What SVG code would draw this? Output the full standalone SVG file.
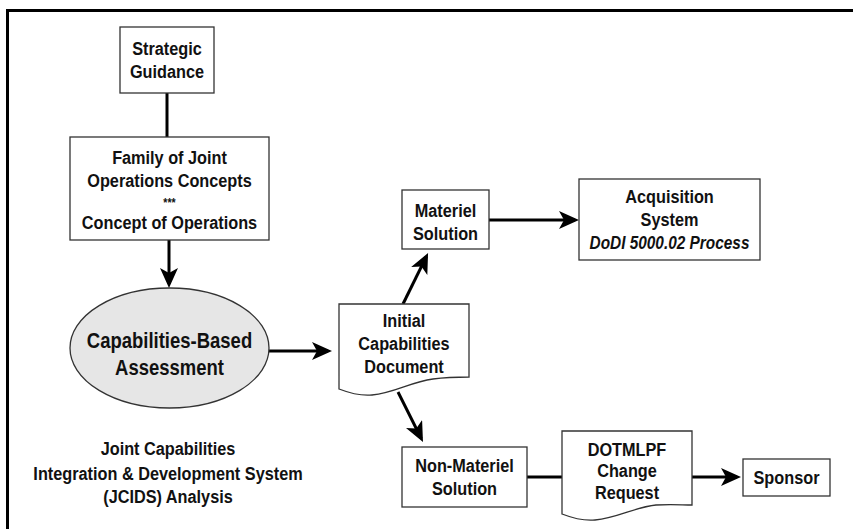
<svg xmlns="http://www.w3.org/2000/svg" width="853" height="529" viewBox="0 0 853 529">
<style>
.box{fill:#fff;stroke:#333;stroke-width:1.3}
.t{font-family:"Liberation Sans",Arial,sans-serif;font-weight:bold;font-size:18.5px;fill:#111;text-anchor:middle}
.big{font-size:21.5px}
.it{font-style:italic;font-size:17.5px}
.c{fill:none;stroke:#000;stroke-width:3}
</style>
<defs>
<marker id="ah" markerUnits="userSpaceOnUse" markerWidth="22" markerHeight="18" refX="16" refY="9" orient="auto">
<path d="M0,0 L20,9 L0,18 L5,9 Z" fill="#000"/>
</marker>
</defs>
<rect width="853" height="529" fill="#fff"/>
<rect x="7.5" y="10.5" width="900" height="600" fill="none" stroke="#000" stroke-width="3"/>
<g id="connectors">
<line class="c" x1="167" y1="93" x2="167" y2="137"/>
<line class="c" x1="169" y1="240" x2="169" y2="284" marker-end="url(#ah)"/>
<line class="c" x1="269" y1="351" x2="328" y2="351" marker-end="url(#ah)"/>
<line class="c" x1="403" y1="304" x2="426.3" y2="256.6" marker-end="url(#ah)"/>
<line class="c" x1="489" y1="220" x2="575" y2="220" marker-end="url(#ah)"/>
<line class="c" x1="398" y1="392" x2="421.2" y2="438.4" marker-end="url(#ah)"/>
<line class="c" x1="527" y1="477" x2="562" y2="477"/>
<line class="c" x1="692" y1="477" x2="737" y2="477" marker-end="url(#ah)"/>
</g>
<g id="strategic">
<rect class="box" x="120" y="27" width="94" height="66"/>
<g transform="matrix(0.88,0,0,1,167,0)">
<text class="t" x="0" y="55">Strategic</text>
<text class="t" x="0" y="78">Guidance</text>
</g>
</g>
<g id="family">
<rect class="box" x="70" y="137" width="199" height="103"/>
<g transform="matrix(0.88,0,0,1,169.5,0)">
<text class="t" x="0" y="164">Family of Joint</text>
<text class="t" x="0" y="187">Operations Concepts</text>
<text class="t" x="0" y="207" style="font-size:12px">***</text>
<text class="t" x="0" y="229">Concept of Operations</text>
</g>
</g>
<g id="cba">
<ellipse cx="169.5" cy="348" rx="99.5" ry="60" fill="#e6e6e6" stroke="#333" stroke-width="1.3"/>
<g transform="matrix(0.86,0,0,1,169.5,0)">
<text class="t big" x="0" y="348">Capabilities-Based</text>
<text class="t big" x="0" y="375">Assessment</text>
</g>
</g>
<g id="jcids">
<g transform="matrix(0.88,0,0,1,168,0)">
<text class="t" x="0" y="455">Joint Capabilities</text>
<text class="t" x="0" y="480">Integration &amp; Development System</text>
<text class="t" x="0" y="503">(JCIDS) Analysis</text>
</g>
</g>
<g id="icd">
<path class="box" d="M339,304 H469 V377 C458,377 448,377 433,379 C410,382 395,393 372,395 C362,396 352,394 339,389 Z"/>
<g transform="matrix(0.88,0,0,1,404,0)">
<text class="t" x="0" y="327">Initial</text>
<text class="t" x="0" y="350">Capabilities</text>
<text class="t" x="0" y="373">Document</text>
</g>
</g>
<g id="materiel">
<rect class="box" x="402" y="190" width="87" height="59"/>
<g transform="matrix(0.88,0,0,1,445.5,0)">
<text class="t" x="0" y="217">Materiel</text>
<text class="t" x="0" y="240">Solution</text>
</g>
</g>
<g id="acquisition">
<rect class="box" x="579" y="179" width="181" height="81"/>
<g transform="matrix(0.88,0,0,1,669.5,0)">
<text class="t" x="0" y="203">Acquisition</text>
<text class="t" x="0" y="226">System</text>
<text class="t it" x="0" y="249">DoDI 5000.02 Process</text>
</g>
</g>
<g id="nonmateriel">
<rect class="box" x="402" y="447" width="125" height="60"/>
<g transform="matrix(0.88,0,0,1,464.5,0)">
<text class="t" x="0" y="472">Non-Materiel</text>
<text class="t" x="0" y="495">Solution</text>
</g>
</g>
<g id="dotmlpf">
<path class="box" d="M562,431 H692 V505 C682,505 672,504 656,505 C635,507 618,518 595,520 C585,521 575,519 562,514 Z"/>
<g transform="matrix(0.88,0,0,1,627,0)">
<text class="t" x="0" y="456">DOTMLPF</text>
<text class="t" x="0" y="477">Change</text>
<text class="t" x="0" y="499">Request</text>
</g>
</g>
<g id="sponsor">
<rect class="box" x="743" y="459" width="87" height="37"/>
<g transform="matrix(0.88,0,0,1,786.5,0)">
<text class="t" x="0" y="484">Sponsor</text>
</g>
</g>
</svg>
